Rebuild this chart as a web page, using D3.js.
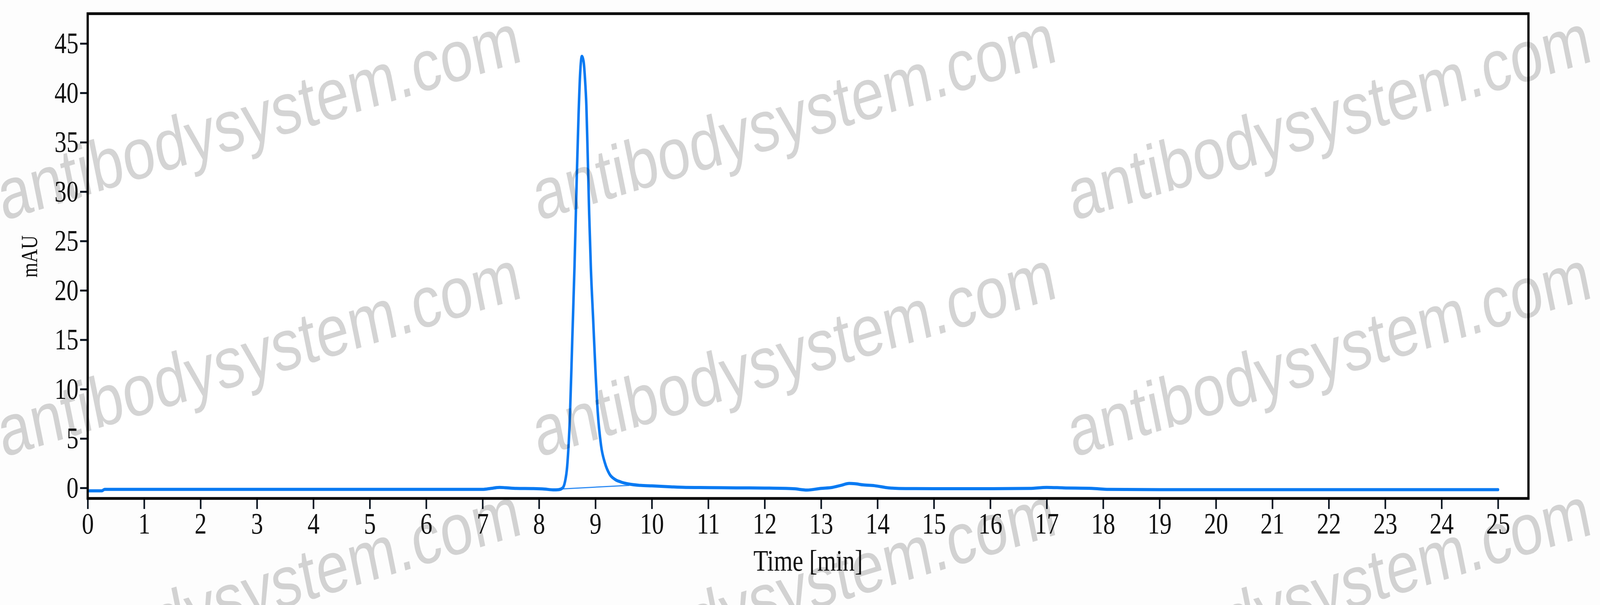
<!DOCTYPE html>
<html>
<head>
<meta charset="utf-8">
<script src="https://cdn.jsdelivr.net/npm/d3@7"></script>
<style>
  html, body { margin: 0; padding: 0; background: #ffffff; overflow: hidden; width: 100%; height: 100%; }
  svg { display: block; width: 100vw; height: 100vh; }
</style>
</head>
<body>
<svg id="chart" viewBox="0 0 5054 1550" preserveAspectRatio="none"></svg>
<script>
// ---------------- data ----------------
const timeMin = [0, 0.25, 0.3, 1, 2, 3, 4, 5, 6, 7.0, 7.15, 7.3, 7.4, 7.6, 7.9, 8.1, 8.25, 8.35, 8.42, 8.46, 8.5, 8.55, 8.59, 8.63, 8.67, 8.70, 8.73, 8.76, 8.79, 8.82, 8.84, 8.86, 8.89, 8.92, 8.96, 9.0, 9.04, 9.1, 9.17, 9.25, 9.35, 9.45, 9.6, 9.8, 10.0, 10.3, 10.6, 11, 11.5, 12, 12.5, 12.75, 13.0, 13.2, 13.35, 13.5, 13.6, 13.75, 13.95, 14.2, 14.5, 15, 16, 16.7, 17.0, 17.3, 17.8, 18.1, 19, 20, 21, 22, 23, 24, 25.0];
const absorbance = [-0.3, -0.3, -0.15, -0.15, -0.15, -0.15, -0.15, -0.15, -0.15, -0.15, -0.05, 0.05, 0.02, -0.05, -0.07, -0.12, -0.2, -0.18, 0.0, 0.6, 2.2, 7.5, 15.0, 22.5, 31.5, 37.5, 42.0, 43.7, 43.2, 41.0, 38.7, 34.5, 27.7, 22.2, 17.1, 12.0, 7.8, 4.3, 2.5, 1.4, 0.85, 0.6, 0.38, 0.25, 0.2, 0.12, 0.05, 0.03, 0.0, -0.02, -0.08, -0.22, -0.05, 0.05, 0.25, 0.45, 0.42, 0.3, 0.22, 0.0, -0.07, -0.08, -0.08, -0.05, 0.05, 0.0, -0.05, -0.15, -0.18, -0.18, -0.18, -0.18, -0.18, -0.18, -0.18];

// integration baseline under the main peak
const baselineTime = [8.42, 9.6];
const baselineValue = [-0.1, 0.25];

const xTickValues = [0,1,2,3,4,5,6,7,8,9,10,11,12,13,14,15,16,17,18,19,20,21,22,23,24,25];
const yTickValues = [0,5,10,15,20,25,30,35,40,45];
const xTitle = "Time [min]";
const yTitle = "mAU";
const watermarkText = "antibodysystem.com";

// ---------------- layout ----------------
const svg = d3.select("#chart");
const plotLeft = 277, plotRight = 4828, plotTop = 35, plotBottom = 1277;
const x = d3.scaleLinear().domain([0, 25.54]).range([plotLeft, plotRight]);
const y = d3.scaleLinear().domain([-1.07, 48.02]).range([plotBottom, plotTop]);
const lineColor = "#0a7af2";
const labelFont = "'Liberation Serif', 'Times New Roman', serif";

svg.append("rect").attr("width", 5054).attr("height", 1550).attr("fill", "#fdfdfd");

// axes
const xAxis = d3.axisBottom(x).tickValues(xTickValues).tickFormat(d3.format("d"))
  .tickSizeInner(27).tickSizeOuter(0).tickPadding(9);
const gx = svg.append("g").attr("transform", `translate(0,${plotBottom})`).call(xAxis);
gx.select(".domain").remove();
gx.selectAll(".tick line").attr("stroke", "#0b1420").attr("stroke-width", 5);
gx.selectAll(".tick text").attr("font-family", labelFont).attr("font-size", 76).attr("fill", "#111");

const yAxis = d3.axisLeft(y).tickValues(yTickValues).tickFormat(d3.format("d"))
  .tickSizeInner(24).tickSizeOuter(0).tickPadding(5);
const gy = svg.append("g").attr("transform", `translate(${plotLeft},0)`).call(yAxis);
gy.select(".domain").remove();
gy.selectAll(".tick line").attr("stroke", "#0b1420").attr("stroke-width", 5);
gy.selectAll(".tick text").attr("font-family", labelFont).attr("font-size", 76).attr("fill", "#111");

// plot area background + clip
svg.append("rect").attr("x", plotLeft).attr("y", plotTop)
  .attr("width", plotRight - plotLeft).attr("height", plotBottom - plotTop).attr("fill", "#ffffff");
svg.append("clipPath").attr("id", "plotClip").append("rect")
  .attr("x", plotLeft).attr("y", plotTop).attr("width", plotRight - plotLeft).attr("height", plotBottom - plotTop);

// integration baseline
const baseData = baselineTime.map((t, i) => ({t, v: baselineValue[i]}));
svg.append("path").datum(baseData)
  .attr("clip-path", "url(#plotClip)")
  .attr("fill", "none").attr("stroke", "#2f8cf4").attr("stroke-width", 3)
  .attr("d", d3.line().x(d => x(d.t)).y(d => y(d.v)));

// chromatogram
const data = timeMin.map((t, i) => ({t, v: absorbance[i]}));
svg.append("path").datum(data)
  .attr("clip-path", "url(#plotClip)")
  .attr("fill", "none").attr("stroke", lineColor).attr("stroke-width", 8)
  .attr("stroke-linejoin", "round").attr("stroke-linecap", "round")
  .attr("d", d3.line().curve(d3.curveMonotoneX).x(d => x(d.t)).y(d => y(d.v)));

// frame
svg.append("rect")
  .attr("x", plotLeft).attr("y", plotTop).attr("width", plotRight - plotLeft).attr("height", plotBottom - plotTop)
  .attr("fill", "none").attr("stroke", "#000").attr("stroke-width", 7);

// axis titles
svg.append("text").attr("x", (plotLeft + plotRight) / 2).attr("y", 1462)
  .attr("text-anchor", "middle").attr("font-family", labelFont).attr("font-size", 76)
  .attr("fill", "#111").text(xTitle);
svg.append("text").attr("transform", "translate(117,657) rotate(-90)")
  .attr("text-anchor", "middle").attr("font-family", labelFont).attr("font-size", 72)
  .attr("textLength", 108).attr("lengthAdjust", "spacingAndGlyphs")
  .attr("fill", "#111").text(yTitle);

// watermark (clipped to the canvas)
svg.append("clipPath").attr("id", "pageClip").append("rect")
  .attr("x", 0).attr("y", 0).attr("width", 5054).attr("height", 1550);
const wmCols = [10, 1700, 3390];
const wmRows = [566, 1172, 1778];
const wm = svg.append("g").attr("clip-path", "url(#pageClip)").attr("pointer-events", "none");
wmRows.forEach(ry => wmCols.forEach(cx => {
  wm.append("text")
    .attr("transform", `translate(${cx},${ry}) rotate(-14)`)
    .attr("font-family", "'Liberation Sans', Arial, sans-serif")
    .attr("font-size", 186)
    .attr("fill", "#000").attr("fill-opacity", 0.17)
    .text(watermarkText);
}));
</script>
</body>
</html>
